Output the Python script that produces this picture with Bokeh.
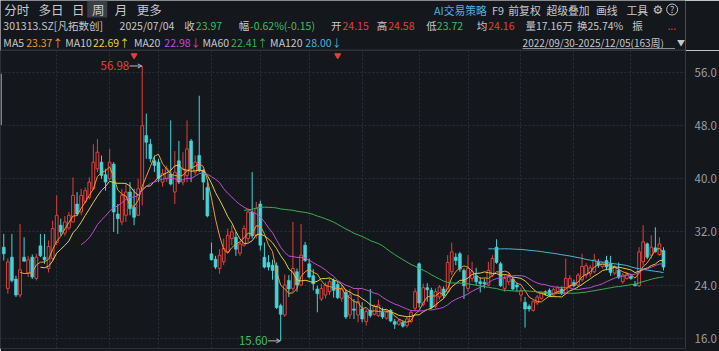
import numpy as np
import pandas as pd
from bokeh.plotting import figure
from bokeh.layouts import column
from bokeh.models import (ColumnDataSource, Range1d, FixedTicker, Grid, Arrow, OpenHead,
                          BoxAnnotation, PrintfTickFormatter)
from bokeh.core.properties import value
from bokeh.embed import file_html
from bokeh.resources import INLINE

# ---------------- data (weekly, 2022/09/30 - 2025/12/05, 163 weeks) ----------------
opens = [
    29.7, 23.5, 28.2, 24.9, 22.5, 28.2, 25.8, 28.2, 25.0, 29.9,
    28.2, 26.5, 28.0, 30.4, 33.0, 31.8, 32.6, 33.5, 36.2, 35.0,
    36.6, 37.2, 38.5, 41.5, 42.5, 40.6, 40.0, 42.2, 34.7, 33.5,
    34.5, 38.0, 35.7, 34.5, 38.5, 46.5, 45.2, 42.7, 42.5, 39.5,
    40.0, 40.7, 38.0, 42.7, 39.5, 40.5, 45.7, 41.0, 43.5, 41.2,
    38.7, 28.7, 27.9, 26.5, 27.5, 29.0, 31.0, 31.2, 28.8, 30.0,
    31.0, 35.0, 31.5, 36.2, 28.2, 27.4, 27.0, 26.9, 20.9, 19.5,
    24.7, 23.5, 26.0, 24.0, 30.0, 27.2, 25.4, 23.4, 21.9, 22.5,
    23.0, 24.7, 24.1, 22.0, 22.9, 19.5, 20.4, 19.5, 20.4, 18.5,
    20.2, 19.6, 19.4, 19.9, 19.0, 20.2, 18.5, 18.1, 18.4, 17.9,
    18.5, 20.5, 27.2, 21.1, 23.6, 23.2, 20.8, 22.2, 23.4, 23.0,
    26.0, 28.2, 28.7, 26.2, 23.5, 25.0, 25.4, 24.5, 24.4, 24.0,
    25.5, 29.7, 27.2, 23.5, 24.5, 24.9, 24.0, 22.5, 21.4, 20.8,
    20.2, 21.3, 22.0, 23.0, 23.2, 22.5, 23.0, 23.4, 22.8, 23.8,
    24.4, 24.0, 24.8, 25.5, 25.7, 26.0, 27.4, 26.8, 27.7, 27.2,
    25.8, 26.2, 24.5, 25.0, 25.3, 24.1, 23.9, 27.5, 30.2, 28.5,
    29.6, 28.6, 29.2]
highs = [
    31.7, 28.0, 31.7, 25.4, 33.2, 31.2, 28.4, 28.6, 28.7, 31.7,
    31.7, 30.7, 33.7, 37.5, 34.0, 34.4, 35.0, 40.2, 38.0, 38.5,
    38.7, 40.2, 45.2, 46.0, 43.5, 41.5, 44.5, 42.5, 36.2, 38.5,
    39.2, 39.5, 38.5, 40.0, 56.98, 49.8, 46.0, 43.5, 43.0, 41.5,
    42.0, 48.8, 44.2, 45.7, 44.0, 48.8, 46.0, 43.5, 52.5, 41.5,
    39.5, 30.4, 28.4, 29.4, 31.0, 32.5, 33.0, 32.0, 30.5, 33.0,
    35.5, 41.0, 36.5, 36.7, 30.4, 28.5, 27.8, 27.4, 21.2, 25.6,
    25.5, 33.5, 26.5, 33.2, 30.5, 28.0, 26.4, 23.9, 24.2, 24.4,
    25.0, 25.0, 24.5, 24.0, 23.4, 23.4, 21.9, 23.4, 21.4, 20.4,
    23.4, 21.1, 21.8, 20.6, 20.2, 20.4, 18.9, 18.9, 18.6, 19.2,
    20.2, 23.5, 27.4, 24.2, 24.3, 23.6, 23.5, 24.0, 23.8, 28.5,
    30.4, 28.8, 29.0, 26.5, 28.5, 27.5, 26.6, 25.2, 25.0, 27.5,
    28.5, 30.9, 27.5, 25.5, 25.8, 25.2, 24.4, 23.6, 22.2, 21.1,
    21.7, 22.5, 23.0, 23.2, 23.5, 23.6, 23.8, 23.8, 28.0, 25.5,
    24.8, 25.8, 28.7, 27.3, 27.0, 28.7, 27.9, 27.5, 28.4, 28.4,
    27.0, 27.4, 25.8, 26.0, 25.6, 24.6, 29.7, 33.0, 30.4, 31.5,
    32.7, 31.2, 29.7]
lows = [
    27.7, 22.7, 24.4, 22.2, 22.1, 27.5, 25.2, 24.9, 24.7, 28.2,
    27.2, 25.9, 27.7, 30.0, 31.4, 31.4, 32.3, 33.4, 34.4, 34.5,
    36.3, 36.9, 38.3, 41.0, 40.0, 38.2, 39.8, 32.0, 31.7, 33.0,
    33.5, 34.5, 33.0, 34.4, 36.0, 43.0, 42.5, 41.0, 39.5, 38.8,
    39.5, 39.0, 36.2, 39.2, 39.0, 39.5, 39.5, 40.5, 41.0, 36.8,
    34.2, 27.7, 26.4, 25.7, 27.0, 28.8, 30.0, 28.4, 28.4, 29.8,
    30.5, 31.0, 31.0, 29.2, 26.5, 26.2, 24.8, 20.4, 15.6, 19.2,
    22.2, 23.0, 23.0, 23.8, 27.5, 25.0, 23.2, 19.9, 21.6, 22.0,
    22.5, 22.1, 21.9, 21.5, 18.9, 18.9, 18.9, 18.4, 18.4, 17.9,
    19.1, 19.4, 19.2, 18.9, 18.8, 18.4, 17.4, 17.9, 17.6, 17.6,
    18.3, 20.0, 20.6, 20.8, 21.5, 20.4, 20.5, 21.8, 22.0, 22.8,
    25.5, 27.0, 26.0, 21.9, 23.0, 24.5, 24.0, 22.9, 23.5, 23.8,
    25.2, 27.2, 23.7, 23.0, 24.0, 23.2, 23.0, 21.5, 17.6, 20.0,
    20.0, 21.0, 21.8, 22.4, 22.3, 22.3, 22.8, 22.5, 22.7, 23.5,
    23.7, 23.8, 24.5, 25.0, 25.2, 25.8, 26.6, 26.5, 26.2, 25.4,
    25.5, 24.9, 24.2, 24.8, 24.8, 23.8, 23.7, 27.0, 27.9, 28.0,
    28.9, 28.4, 26.2]
closes = [
    28.7, 27.5, 24.7, 22.5, 26.3, 27.6, 27.8, 25.2, 28.2, 28.4,
    27.8, 29.8, 32.5, 34.5, 32.0, 33.5, 34.5, 37.5, 34.7, 37.5,
    38.2, 39.5, 42.5, 44.0, 40.5, 39.5, 42.5, 35.0, 34.0, 37.5,
    38.0, 35.5, 34.2, 38.5, 48.0, 45.5, 43.0, 42.0, 40.0, 40.8,
    41.5, 39.2, 41.0, 39.5, 41.5, 44.5, 41.5, 42.5, 41.2, 39.5,
    34.4, 27.8, 26.7, 28.5, 29.5, 31.5, 32.0, 29.4, 30.2, 32.5,
    35.0, 31.4, 35.5, 30.0, 26.7, 26.7, 26.2, 20.6, 19.6, 24.0,
    23.4, 26.5, 24.0, 28.5, 27.7, 25.2, 24.2, 22.7, 23.5, 24.0,
    24.5, 23.2, 22.1, 23.5, 19.2, 22.5, 20.2, 21.5, 18.9, 20.0,
    19.4, 20.8, 21.0, 19.2, 19.9, 18.6, 18.1, 18.6, 17.8, 18.9,
    19.9, 23.0, 21.3, 23.6, 23.3, 20.6, 23.0, 23.7, 22.4, 27.4,
    29.0, 27.7, 26.4, 23.9, 26.5, 26.0, 24.5, 24.2, 24.2, 26.2,
    28.0, 27.4, 23.9, 25.0, 25.2, 23.4, 23.7, 23.1, 20.4, 20.4,
    21.5, 22.2, 22.8, 22.7, 22.5, 23.3, 23.6, 22.7, 25.0, 25.0,
    23.9, 25.5, 26.8, 26.9, 26.6, 27.8, 27.0, 27.3, 26.7, 25.9,
    26.7, 25.2, 25.5, 25.6, 25.0, 23.9, 29.0, 30.5, 28.2, 29.7,
    29.0, 30.2, 26.7]

ma_periods = [5, 10, 20, 60, 120]
price_ticks = [16, 24, 32, 40, 48, 56]
quarter_weeks = [13, 26, 38, 51, 63, 75, 88, 102, 114, 127, 140, 154]  # quarter boundaries
event_weeks = [32, 82]

# header texts
tabs = ["分时", "多日", "日", "周", "月", "更多"]
tools = ["AI交易策略", "F9", "前复权", "超级叠加", "画线", "工具"]
quote_items = [("301313.SZ[凡拓数创]", "n"), ("2025/07/04", "n"), ("收", "n"), ("23.97", "g"),
               ("幅", "n"), ("-0.62%(-0.15)", "g"), ("开", "n"), ("24.15", "r"),
               ("高", "n"), ("24.58", "r"), ("低", "n"), ("23.72", "g"), ("均", "n"),
               ("24.16", "r"), ("量17.16万", "n"), ("换25.74%", "n"), ("振", "n"), ("...", "r")]
ma_labels = ["MA5", "MA10", "MA20", "MA60", "MA120"]
ma_values = ["23.37↑", "22.69↑", "22.98↓", "22.41↑", "28.00↓"]
range_text = "2022/09/30-2025/12/05(163周)"

# ---------------- style ----------------
BG = "#14171c"
RED = "#e2403a"
CYAN = "#46d4d8"
GREEN = "#3fbf5f"
TXT = "#c6c8cc"
AXTXT = "#9c9fa5"
GRIDC = "#2b2f36"
MA_COLORS = ["#ec9b33", "#e2cf4c", "#c04fcf", "#3fae53", "#4fb4d9"]
FONT = "Noto Sans CJK SC"

# ---------------- header ----------------
hdr = figure(width=719, height=50, x_range=Range1d(0, 719), y_range=Range1d(50, 0),
             x_axis_type=None, y_axis_type=None, output_backend="svg", toolbar_location=None,
             min_border=0, background_fill_color=BG, border_fill_color=BG,
             outline_line_color=None)
hdr.grid.visible = False
hdr.quad(left=[91], right=[112], top=[0], bottom=[17], fill_color="#3a3e46", line_color=None)

tx, ty, tt, tc, ts = [], [], [], [], []
for xx, t in zip([4, 40, 75, 96, 120, 143], tabs):
    tx.append(xx); ty.append(9); tt.append(t); tc.append(TXT); ts.append("12.5px")
for xx, t in zip([455, 516, 533, 573, 625, 657], tools):
    tx.append(xx); ty.append(9); tt.append(t)
    tc.append("#4fb0e0" if t.startswith("AI") else TXT); ts.append("10.8px")
cmap = {"n": TXT, "g": GREEN, "r": RED}
for xx, (t, k) in zip([3, 125, 193, 205, 250, 262, 347, 359, 395, 407, 447, 458, 500, 512,
                       551, 605, 663, 700], quote_items):
    tx.append(xx); ty.append(25); tt.append(t); tc.append(cmap[k]); ts.append("10.5px")
for xl, xv, lab, val, col in zip([3, 68, 140, 212, 283], [27, 97, 172, 242, 320],
                                 ma_labels, ma_values, MA_COLORS):
    tx += [xl, xv]; ty += [41.5, 41.5]; tt += [lab, val]; tc += [TXT, col]; ts += ["10.5px"] * 2
tx.append(548); ty.append(41.5); tt.append(range_text); tc.append(TXT); ts.append("10px")
tx.append(710); ty.append(41.5); tt.append("▼"); tc.append(TXT); ts.append("8px")
hsrc = ColumnDataSource(dict(x=tx, y=ty, text=tt, color=tc, size=ts))
hdr.text(x="x", y="y", text="text", text_color="color", text_font_size="size",
         text_baseline="middle", text_align="left", text_font=value(FONT), source=hsrc)
hdr.text(x=[690], y=[9], text=["⚙"], text_color=TXT, text_font_size="12px",
         text_baseline="middle", text_align="center", text_font=value("DejaVu Sans"))
hdr.scatter(x=[705], y=[9], size=11, marker="circle", fill_color=None, line_color=TXT)
hdr.text(x=[705], y=[9], text=["?"], text_color=TXT, text_font_size="9px",
         text_baseline="middle", text_align="center", text_font=value(FONT))
hdr.segment(x0=[548], y0=[48], x1=[708], y1=[48], line_color="#8c8f95", line_width=1)
hdr.segment(x0=[0], y0=[49.5], x1=[719], y1=[49.5], line_color="#30343b", line_width=1)

# ---------------- main chart ----------------
o = np.array(opens); h = np.array(highs); l = np.array(lows); c = np.array(closes)
n = len(c)
idx = np.arange(n)
up = c >= o
dn = ~up

p = figure(width=719, height=301, x_range=Range1d(-0.8, 167.4), y_range=Range1d(14.45, 59.31),
           x_axis_type=None, y_axis_location="right", output_backend="svg",
           toolbar_location=None, min_border_left=0, min_border_right=30, min_border_top=0,
           min_border_bottom=3, background_fill_color=BG, border_fill_color=BG,
           outline_line_color="#2c3037")
p.yaxis.ticker = FixedTicker(ticks=price_ticks)
p.yaxis.formatter = PrintfTickFormatter(format="%.1f")
p.yaxis.major_label_text_font_size = "11.5px"
p.yaxis.major_label_text_color = AXTXT
p.yaxis.major_label_text_font = FONT
p.yaxis.major_tick_line_color = None
p.yaxis.minor_tick_line_color = None
p.yaxis.axis_line_color = "#34383f"
p.yaxis.major_label_standoff = 3
p.ygrid.grid_line_color = GRIDC
p.ygrid.grid_line_dash = "2 2"
p.add_layout(Grid(dimension=0, ticker=FixedTicker(ticks=quarter_weeks),
                  grid_line_color=GRIDC, grid_line_dash="2 2"))

up_src = ColumnDataSource(dict(x=idx[up], top=c[up], bottom=o[up], h=h[up], l=l[up]))
dn_src = ColumnDataSource(dict(x=idx[dn], top=o[dn], bottom=c[dn], h=h[dn], l=l[dn]))
p.segment(x0="x", y0="h", x1="x", y1="l", line_color=RED, line_width=1, source=up_src)
p.segment(x0="x", y0="h", x1="x", y1="l", line_color=CYAN, line_width=1, source=dn_src)
p.vbar(x="x", top="top", bottom="bottom", width=0.68, fill_color=BG, line_color=RED,
       line_width=1, source=up_src)
p.vbar(x="x", top="top", bottom="bottom", width=0.72, fill_color=CYAN, line_color=CYAN,
       line_width=0.6, source=dn_src)

for per, col in zip(ma_periods, MA_COLORS):
    ma = pd.Series(c).rolling(per).mean().to_numpy()
    p.line(x=idx, y=ma, line_color=col, line_width=1)

# extreme labels
imax = int(np.argmax(h)); imin = int(np.argmin(l))
p.text(x=[imax], y=[h[imax]], text=[f"{h[imax]:.2f}"], x_offset=-13, text_align="right",
       text_baseline="middle", text_color=RED, text_font_size="11.5px", text_font=value(FONT))
p.add_layout(Arrow(end=OpenHead(size=4, line_color="#b8bbc0", line_width=1),
                   x_start=imax - 3.1, y_start=h[imax], x_end=imax - 0.1, y_end=h[imax],
                   line_color="#b8bbc0", line_width=1))
p.text(x=[imin], y=[l[imin]], text=[f"{l[imin]:.2f}"], x_offset=-13, text_align="right",
       text_baseline="middle", text_color=GREEN, text_font_size="11.5px", text_font=value(FONT))
p.add_layout(Arrow(end=OpenHead(size=4, line_color="#b8bbc0", line_width=1),
                   x_start=imin - 3.1, y_start=l[imin], x_end=imin - 0.1, y_end=l[imin],
                   line_color="#b8bbc0", line_width=1))

# event flags at top
p.scatter(x=event_weeks, y=[59.31 - 0.75] * len(event_weeks), marker="inverted_triangle",
          size=6, fill_color=RED, line_color=RED)

# left scroll indicator
p.add_layout(BoxAnnotation(left=-0.8, right=-0.45, top=55.8, bottom=48.1,
                           fill_color="#8a8d92", fill_alpha=1, line_color=None))

layout = column(hdr, p, spacing=0)
open("out.html", "w").write(file_html(layout, INLINE))
